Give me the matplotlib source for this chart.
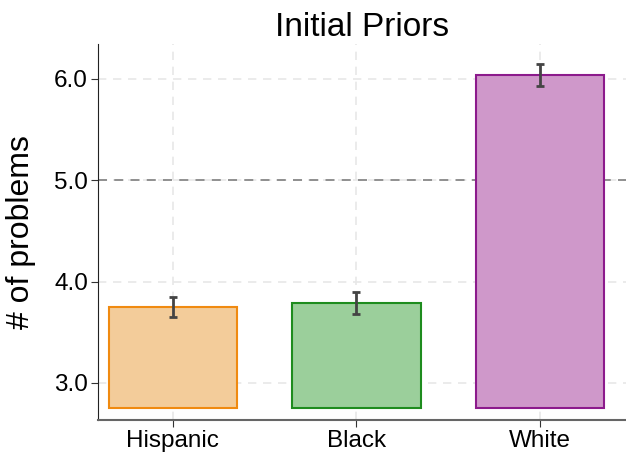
import numpy as np
import matplotlib.pyplot as plt

plt.rcParams['font.family'] = ['Liberation Sans', 'DejaVu Sans']

groups = ['Hispanic', 'Black', 'White']
means = [3.75, 3.79, 6.04]
errors = [0.10, 0.11, 0.11]
fill_colors = ['#f3cc9a', '#9bcf9b', '#cf98ca']
edge_colors = ['#f08a10', '#1e8c1e', '#8c1a8c']
baseline = 2.75
reference_level = 5.0

fig = plt.figure(figsize=(6.26, 4.53), dpi=100)
ax = fig.add_axes([0.156, 0.073, 0.844, 0.830])

x = np.arange(len(groups))
ax.bar(x, np.array(means) - baseline, bottom=baseline, width=0.7,
       color=fill_colors, edgecolor=edge_colors, linewidth=1.5, zorder=3)
ax.errorbar(x, means, yerr=errors, fmt='none', ecolor='#444444',
            elinewidth=2, capsize=3, capthick=2, zorder=4)

ax.axhline(reference_level, color='#888888', linestyle=(0, (5, 4)), linewidth=1.3, zorder=2)

ax.set_xlim(-0.41, 2.47)
ax.set_ylim(2.635, 6.345)
ax.set_xticks(x)
ax.set_xticklabels(groups, fontsize=17.5)
ax.set_yticks([3.0, 4.0, 5.0, 6.0])
ax.set_yticklabels(['3.0', '4.0', '5.0', '6.0'], fontsize=17.5)

ax.grid(True, color='#e8e8e8', linestyle=(0, (5, 4)), linewidth=1.2, zorder=0)
ax.set_axisbelow(True)

for side in ['top', 'right']:
    ax.spines[side].set_visible(False)
ax.spines['left'].set_color('#222222')
ax.spines['bottom'].set_color('#666666')
ax.spines['bottom'].set_linewidth(1.5)
ax.tick_params(axis='both', length=5, color='#333333', pad=2)

ax.set_ylabel('# of problems', fontsize=23, labelpad=13)
ax.set_title('Initial Priors', fontsize=24, pad=6)

plt.savefig('out.png', dpi=100)
